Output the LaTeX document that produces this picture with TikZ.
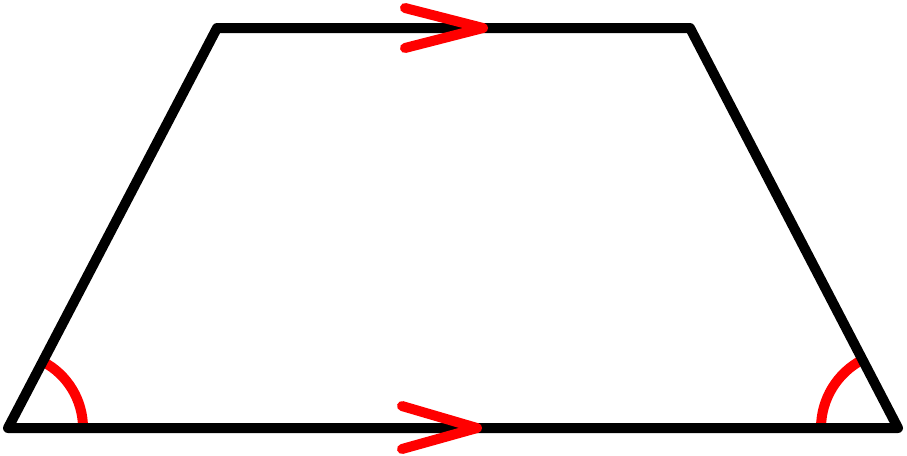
\documentclass[tikz,border=0pt]{standalone}
\usepackage{amssymb, amsmath}
\usepackage{tikz}
\usetikzlibrary{shapes,arrows}

\begin{document}
\begin{tikzpicture}[line cap=round, line join=round]
	\useasboundingbox (0,0) rectangle (9.07,4.55);
	\coordinate (A) at (0.08,0.27);
	\coordinate (B) at (8.98,0.27);
	\coordinate (C) at (6.90,4.27);
	\coordinate (D) at (2.17,4.27);
	 \draw[red, line width=0.1cm, line cap=butt] ([xshift=0.75cm]A) arc (0:62.4:0.75);
	 \draw[red, line width=0.1cm, line cap=butt] ([xshift=-0.77cm]B) arc (180:117.5:0.77);
	 \draw[line width=0.1cm] (A)--(B)--(C)--(D)--cycle;
	 \draw[red, line width=0.1cm] (4.05,4.47)--(4.83,4.27)--(4.05,4.07);
	 \draw[red, line width=0.1cm] (4.02,0.49)--(4.77,0.27)--(4.02,0.06);
\end{tikzpicture}
\end{document}
